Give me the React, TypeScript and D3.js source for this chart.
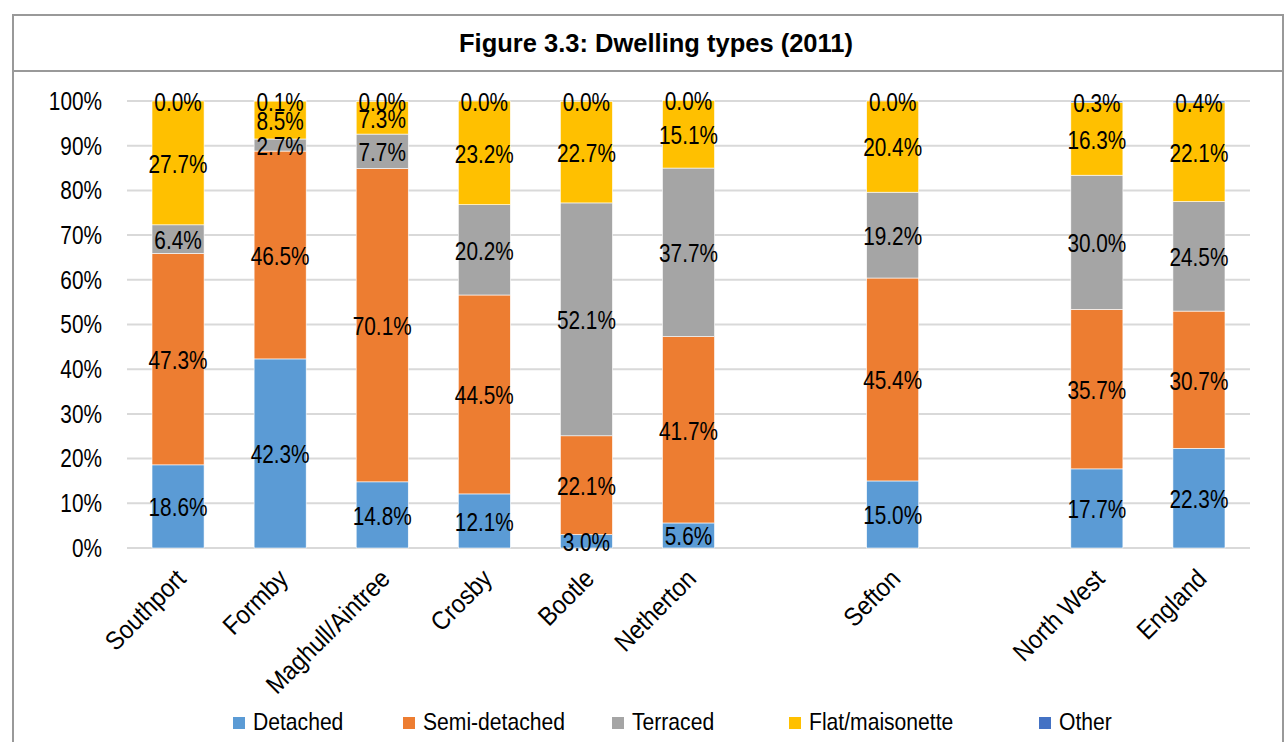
import React from "react";
import * as d3 from "d3";

// Dwelling types by area, percentage of dwellings (2011)
const categories = ["Southport", "Formby", "Maghull/Aintree", "Crosby", "Bootle", "Netherton", "", "Sefton", " ", "North West", "England"];
const seriesNames = ["Detached", "Semi-detached", "Terraced", "Flat/maisonette", "Other"];
const detached = [18.6, 42.3, 14.8, 12.1, 3.0, 5.6, null, 15.0, null, 17.7, 22.3];
const semiDetached = [47.3, 46.5, 70.1, 44.5, 22.1, 41.7, null, 45.4, null, 35.7, 30.7];
const terraced = [6.4, 2.7, 7.7, 20.2, 52.1, 37.7, null, 19.2, null, 30.0, 24.5];
const flat = [27.7, 8.5, 7.3, 23.2, 22.7, 15.1, null, 20.4, null, 16.3, 22.1];
const other = [0.0, 0.1, 0.0, 0.0, 0.0, 0.0, null, 0.0, null, 0.3, 0.4];
const yTicks = [0, 10, 20, 30, 40, 50, 60, 70, 80, 90, 100];

const colors = ["#5B9BD5", "#ED7D31", "#A5A5A5", "#FFC000", "#4472C4"];
const FONT = "'Liberation Sans', Arial, sans-serif";

// Condensed text: horizontally squeezed sans-serif
function CText({ x, y, anchor = "middle", size = 26, sx = 0.8, rotate = 0, children }: any) {
  return (
    <text
      transform={`translate(${x},${y}) rotate(${rotate}) scale(${sx},1)`}
      textAnchor={anchor}
      dominantBaseline="central"
      fontFamily={FONT}
      fontSize={size}
      fill="#000"
    >
      {children}
    </text>
  );
}

export default function App() {
  const W = 1286;
  const H = 742;
  const series = [detached, semiDetached, terraced, flat, other];

  const x = d3.scaleBand<string>().domain(categories).range([127, 1250]).paddingInner(0.49).paddingOuter(0.245);
  const y = d3.scaleLinear().domain([0, 100]).range([548, 101]);

  const rows = categories.map((c, i) => {
    const r: any = { cat: c };
    seriesNames.forEach((s, k) => (r[s] = series[k][i] ?? 0));
    r.blank = series[0][i] === null;
    return r;
  });
  const stacked = d3.stack<any>().keys(seriesNames)(rows);

  const legendX = [233, 403, 612, 789, 1039];

  return (
    <svg width={W} height={H} style={{ position: "absolute", left: 0, top: 0, background: "#fff" }}>
      {/* frame */}
      <rect x={13} y={15} width={1270} height={760} fill="none" stroke="#999" strokeWidth={2} />
      <line x1={13} x2={1283} y1={71} y2={71} stroke="#999" strokeWidth={2} />
      <text x={656} y={43} textAnchor="middle" dominantBaseline="central" fontFamily={FONT} fontWeight="bold" fontSize={25.5}>
        Figure 3.3: Dwelling types (2011)
      </text>

      {/* gridlines */}
      {yTicks.map((t) => (
        <line key={t} x1={127} x2={1250} y1={y(t)} y2={y(t)} stroke="#D9D9D9" strokeWidth={2} />
      ))}
      {yTicks.map((t) => (
        <CText key={"l" + t} x={102} y={y(t)} anchor="end">
          {t}%
        </CText>
      ))}

      {/* bars */}
      {stacked.map((layer, k) => (
        <g key={layer.key}>
          {layer.map((d, i) =>
            rows[i].blank ? null : (
              <rect
                key={i}
                x={x(categories[i])}
                width={x.bandwidth()}
                y={y(d[1])}
                height={Math.max(0, y(d[0]) - y(d[1]))}
                fill={colors[k]}
                stroke="#fff"
                strokeWidth={0.6}
              />
            )
          )}
        </g>
      ))}

      {/* value labels */}
      {stacked.map((layer) => (
        <g key={"v" + layer.key}>
          {layer.map((d, i) =>
            rows[i].blank ? null : (
              <CText key={i} x={(x(categories[i]) as number) + x.bandwidth() / 2} y={y((d[0] + d[1]) / 2) + 1}>
                {(d[1] - d[0]).toFixed(1)}%
              </CText>
            )
          )}
        </g>
      ))}

      {/* category labels */}
      {categories.map((c, i) => {
        const cx = (x(c) as number) + x.bandwidth() / 2;
        return (
          <CText key={"c" + i} x={cx + 3} y={574} anchor="end" rotate={-45} sx={0.9}>
            {c.trim()}
          </CText>
        );
      })}

      {/* legend */}
      {seriesNames.map((s, k) => (
        <g key={"lg" + s}>
          <rect x={legendX[k]} y={717} width={12} height={12} fill={colors[k]} />
          <CText x={legendX[k] + 20} y={722} anchor="start" size={24} sx={0.88}>
            {s}
          </CText>
        </g>
      ))}
    </svg>
  );
}
